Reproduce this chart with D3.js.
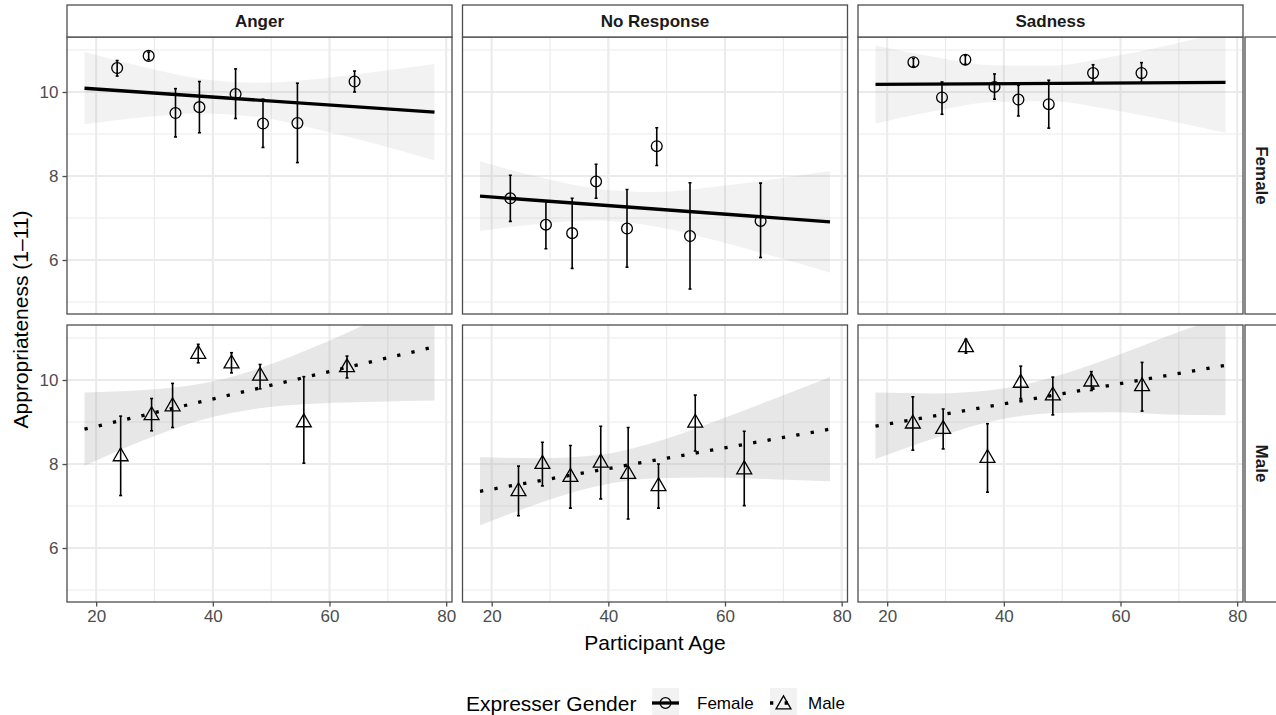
<!DOCTYPE html>
<html>
<head>
<meta charset="utf-8">
<script src="https://cdn.jsdelivr.net/npm/d3@7"></script>
<style>
  body { margin: 0; background: #fff; }
  svg { display: block; font-family: "Liberation Sans", Arial, Helvetica, sans-serif; }
</style>
</head>
<body>
<svg id="chart" width="1276" height="715"></svg>
<script>
// facets and axes
var emotions = ['Anger', 'No Response', 'Sadness'];
var genders = ['Female', 'Male'];
var xTicks = [20, 40, 60, 80];
var xMinor = [30, 50, 70];
var yTicks = [6, 8, 10];
var yMinor = [5, 7, 9, 11];

// group means: [age, mean, lower, upper]
var angerFemale = [
  [23.6, 10.57, 10.38, 10.75], [29.0, 10.86, 10.77, 10.95], [33.6, 9.50, 8.93, 10.08],
  [37.7, 9.64, 9.03, 10.25], [43.9, 9.95, 9.37, 10.55], [48.6, 9.25, 8.68, 9.83],
  [54.5, 9.26, 8.32, 10.21], [64.3, 10.25, 10.00, 10.50]
];
var noResponseFemale = [
  [23.2, 7.47, 6.92, 8.02], [29.3, 6.84, 6.27, 7.41], [33.8, 6.64, 5.80, 7.47],
  [37.9, 7.87, 7.47, 8.28], [43.2, 6.75, 5.83, 7.68], [48.3, 8.71, 8.25, 9.15],
  [54.0, 6.57, 5.31, 7.84], [66.1, 6.93, 6.06, 7.83]
];
var sadnessFemale = [
  [24.5, 10.71, 10.61, 10.80], [29.4, 9.87, 9.47, 10.24], [33.4, 10.77, 10.66, 10.87],
  [38.4, 10.12, 9.83, 10.43], [42.5, 9.82, 9.43, 10.16], [47.7, 9.71, 9.14, 10.28],
  [55.3, 10.45, 10.25, 10.65], [63.6, 10.45, 10.23, 10.70]
];
var angerMale = [
  [24.2, 8.18, 7.25, 9.14], [29.5, 9.16, 8.79, 9.56], [33.1, 9.37, 8.87, 9.92],
  [37.5, 10.62, 10.41, 10.85], [43.2, 10.39, 10.17, 10.65], [48.1, 10.10, 9.79, 10.37],
  [55.6, 8.99, 8.02, 10.08], [63.0, 10.30, 10.05, 10.57]
];
var noResponseMale = [
  [24.6, 7.35, 6.77, 7.95], [28.7, 8.00, 7.48, 8.52], [33.5, 7.69, 6.95, 8.44],
  [38.7, 8.03, 7.17, 8.90], [43.4, 7.76, 6.69, 8.87], [48.6, 7.47, 6.95, 8.00],
  [54.9, 8.98, 8.31, 9.64], [63.3, 7.87, 7.01, 8.78]
];
var sadnessMale = [
  [24.4, 8.96, 8.33, 9.60], [29.6, 8.83, 8.36, 9.31], [33.5, 10.78, 10.64, 10.97],
  [37.2, 8.14, 7.33, 8.96], [42.9, 9.93, 9.56, 10.33], [48.4, 9.63, 9.17, 10.07],
  [55.0, 9.96, 9.75, 10.20], [63.7, 9.85, 9.26, 10.42]
];

// linear fits: [age, value] at the two ends
var angerFemaleFit = [[18, 10.09], [78, 9.52]];
var noResponseFemaleFit = [[18, 7.52], [78, 6.91]];
var sadnessFemaleFit = [[18, 10.18], [78, 10.23]];
var angerMaleFit = [[18, 8.83], [78, 10.79]];
var noResponseMaleFit = [[18, 7.35], [78, 8.83]];
var sadnessMaleFit = [[18, 8.90], [78, 10.35]];

// confidence bands: [age, lower, upper]
var angerFemaleBand = [
  [18, 9.23, 10.95], [28, 9.40, 10.60], [38, 9.49, 10.31], [48, 9.40, 10.22],
  [58, 9.11, 10.31], [68, 8.76, 10.48], [78, 8.37, 10.67]
];
var noResponseFemaleBand = [
  [18, 6.69, 8.35], [28, 6.86, 7.98], [38, 6.94, 7.70], [48, 6.80, 7.62],
  [58, 6.48, 7.74], [68, 6.10, 7.92], [78, 5.70, 8.12]
];
var sadnessFemaleBand = [
  [18, 9.25, 11.11], [28, 9.54, 10.84], [38, 9.76, 10.64], [48, 9.78, 10.63],
  [58, 9.59, 10.83], [68, 9.33, 11.11], [78, 9.03, 11.43]
];
var angerMaleBand = [
  [18, 7.96, 9.70], [28, 8.56, 9.76], [38, 9.05, 9.91], [48, 9.33, 10.28],
  [58, 9.44, 10.82], [68, 9.48, 11.44], [78, 9.51, 12.07]
];
var noResponseMaleBand = [
  [18, 6.54, 8.16], [28, 7.06, 8.14], [38, 7.47, 8.21], [48, 7.66, 8.52],
  [58, 7.68, 9.00], [68, 7.64, 9.53], [78, 7.59, 10.07]
];
var sadnessMaleBand = [
  [18, 8.12, 9.70], [28, 8.61, 9.68], [38, 9.02, 9.76], [48, 9.21, 10.05],
  [58, 9.23, 10.51], [68, 9.18, 11.04], [78, 9.16, 11.54]
];

var panels = [
  { emotion: 'Anger', gender: 'Female', points: angerFemale, fit: angerFemaleFit, band: angerFemaleBand },
  { emotion: 'No Response', gender: 'Female', points: noResponseFemale, fit: noResponseFemaleFit, band: noResponseFemaleBand },
  { emotion: 'Sadness', gender: 'Female', points: sadnessFemale, fit: sadnessFemaleFit, band: sadnessFemaleBand },
  { emotion: 'Anger', gender: 'Male', points: angerMale, fit: angerMaleFit, band: angerMaleBand },
  { emotion: 'No Response', gender: 'Male', points: noResponseMale, fit: noResponseMaleFit, band: noResponseMaleBand },
  { emotion: 'Sadness', gender: 'Male', points: sadnessMale, fit: sadnessMaleFit, band: sadnessMaleBand }
];

// layout
var svg = d3.select('#chart');
var lefts = [67, 462.5, 858];
var tops = [37, 325];
var pw = 385, ph = 277;
var stripH = 32;
var border = '#4d4d4d';
var grid = '#ebebeb';
var tickText = '#4d4d4d';
var bandOpacity = { Female: 0.13, Male: 0.24 };

var x = d3.scaleLinear().domain([15, 81]).range([0, pw]);
var y = d3.scaleLinear().domain([4.715, 11.31]).range([ph, 0]);

var circleR = 5.4;
var triR = 8.6;

function trianglePath(r) {
  var xc = r * Math.sqrt(3) / 2, yc = r / 2;
  return 'M0,' + (-r) + 'L' + xc + ',' + yc + 'L' + (-xc) + ',' + yc + 'Z';
}

function drawMarker(sel, gender) {
  if (gender === 'Female') {
    sel.append('circle').attr('r', circleR)
      .attr('fill', 'none').attr('stroke', '#000').attr('stroke-width', 1.3);
  } else {
    sel.append('path').attr('d', trianglePath(triR))
      .attr('fill', 'none').attr('stroke', '#000').attr('stroke-width', 1.3);
  }
}

var defs = svg.append('defs');

panels.forEach(function (p, i) {
  var col = emotions.indexOf(p.emotion);
  var row = genders.indexOf(p.gender);
  var g = svg.append('g')
    .attr('transform', 'translate(' + lefts[col] + ',' + tops[row] + ')');

  defs.append('clipPath').attr('id', 'clip' + i)
    .append('rect').attr('width', pw).attr('height', ph);

  // grid
  g.selectAll('line.xminor').data(xMinor).enter().append('line')
    .attr('x1', x).attr('x2', x).attr('y1', 0).attr('y2', ph)
    .attr('stroke', grid).attr('stroke-width', 1.1);
  g.selectAll('line.yminor').data(yMinor).enter().append('line')
    .attr('y1', y).attr('y2', y).attr('x1', 0).attr('x2', pw)
    .attr('stroke', grid).attr('stroke-width', 1.1);
  g.selectAll('line.xmajor').data(xTicks).enter().append('line')
    .attr('x1', x).attr('x2', x).attr('y1', 0).attr('y2', ph)
    .attr('stroke', grid).attr('stroke-width', 2.1);
  g.selectAll('line.ymajor').data(yTicks).enter().append('line')
    .attr('y1', y).attr('y2', y).attr('x1', 0).attr('x2', pw)
    .attr('stroke', grid).attr('stroke-width', 2.1);

  var inner = g.append('g').attr('clip-path', 'url(#clip' + i + ')');

  // confidence band
  var area = d3.area()
    .x(function (d) { return x(d[0]); })
    .y0(function (d) { return y(d[1]); })
    .y1(function (d) { return y(d[2]); })
    .curve(d3.curveMonotoneX);
  inner.append('path').datum(p.band)
    .attr('d', area)
    .attr('fill', '#999999').attr('fill-opacity', bandOpacity[p.gender]);

  // fit line
  var line = d3.line()
    .x(function (d) { return x(d[0]); })
    .y(function (d) { return y(d[1]); });
  var fitPath = inner.append('path').datum(p.fit)
    .attr('d', line)
    .attr('fill', 'none').attr('stroke', '#000').attr('stroke-width', 3.3);
  if (p.gender === 'Male') {
    fitPath.attr('stroke-dasharray', '3.3,11.3');
  }

  // error bars
  var bars = inner.selectAll('g.bar').data(p.points).enter().append('g');
  bars.append('line')
    .attr('x1', function (d) { return x(d[0]); })
    .attr('x2', function (d) { return x(d[0]); })
    .attr('y1', function (d) { return y(d[2]); })
    .attr('y2', function (d) { return y(d[3]); })
    .attr('stroke', '#000').attr('stroke-width', 1.6);
  bars.append('line')
    .attr('x1', function (d) { return x(d[0]) - 1.5; })
    .attr('x2', function (d) { return x(d[0]) + 1.5; })
    .attr('y1', function (d) { return y(d[2]); })
    .attr('y2', function (d) { return y(d[2]); })
    .attr('stroke', '#000').attr('stroke-width', 1.6);
  bars.append('line')
    .attr('x1', function (d) { return x(d[0]) - 1.5; })
    .attr('x2', function (d) { return x(d[0]) + 1.5; })
    .attr('y1', function (d) { return y(d[3]); })
    .attr('y2', function (d) { return y(d[3]); })
    .attr('stroke', '#000').attr('stroke-width', 1.6);

  // points
  var marks = inner.selectAll('g.mark').data(p.points).enter().append('g')
    .attr('transform', function (d) { return 'translate(' + x(d[0]) + ',' + y(d[1]) + ')'; });
  drawMarker(marks, p.gender);

  // panel border
  g.append('rect').attr('width', pw).attr('height', ph)
    .attr('fill', 'none').attr('stroke', border).attr('stroke-width', 1.3);

  // top strip
  if (row === 0) {
    g.append('rect').attr('y', -stripH).attr('width', pw).attr('height', stripH)
      .attr('fill', '#fff').attr('stroke', border).attr('stroke-width', 1.3);
    g.append('text').attr('x', pw / 2).attr('y', -stripH / 2)
      .attr('text-anchor', 'middle').attr('dominant-baseline', 'central')
      .attr('font-size', 17).attr('font-weight', 'bold').attr('fill', '#1a1a1a')
      .text(p.emotion);
  }

  // right strip
  if (col === emotions.length - 1) {
    g.append('rect').attr('x', pw + 2).attr('width', stripH).attr('height', ph)
      .attr('fill', '#fff').attr('stroke', border).attr('stroke-width', 1.3);
    g.append('text')
      .attr('transform', 'translate(' + (pw + 2 + stripH / 2) + ',' + (ph / 2) + ') rotate(90)')
      .attr('text-anchor', 'middle').attr('dominant-baseline', 'central')
      .attr('font-size', 17).attr('font-weight', 'bold').attr('fill', '#1a1a1a')
      .text(p.gender);
  }

  // y axis
  if (col === 0) {
    var ya = g.append('g').call(d3.axisLeft(y).tickValues(yTicks).tickSize(4.5).tickPadding(4).tickFormat(d3.format('d')));
    ya.select('.domain').remove();
    ya.selectAll('line').attr('stroke', border).attr('stroke-width', 1.3);
    ya.selectAll('text').attr('font-size', 17).attr('fill', tickText).attr('font-family', null);
  }

  // x axis
  if (row === genders.length - 1) {
    var xa = g.append('g').attr('transform', 'translate(0,' + ph + ')')
      .call(d3.axisBottom(x).tickValues(xTicks).tickSize(4.5).tickPadding(3).tickFormat(d3.format('d')));
    xa.select('.domain').remove();
    xa.selectAll('line').attr('stroke', border).attr('stroke-width', 1.3);
    xa.selectAll('text').attr('font-size', 17).attr('fill', tickText).attr('font-family', null);
  }
});

// axis titles
svg.append('text')
  .attr('x', (lefts[0] + lefts[2] + pw) / 2).attr('y', 642)
  .attr('text-anchor', 'middle').attr('dominant-baseline', 'central')
  .attr('font-size', 21).attr('fill', '#000')
  .text('Participant Age');

svg.append('text')
  .attr('transform', 'translate(20,' + ((tops[0] + tops[1] + ph) / 2) + ') rotate(-90)')
  .attr('text-anchor', 'middle').attr('dominant-baseline', 'central')
  .attr('font-size', 21).attr('fill', '#000')
  .text('Appropriateness (1\u201311)');

// legend
var legend = svg.append('g').attr('transform', 'translate(0,703)');
legend.append('text').attr('x', 466).attr('y', 0)
  .attr('dominant-baseline', 'central').attr('font-size', 21).attr('fill', '#000')
  .text('Expresser Gender');

var keys = [
  { gender: 'Female', kx: 652, tx: 697 },
  { gender: 'Male', kx: 770, tx: 808 }
];
keys.forEach(function (k) {
  var kg = legend.append('g').attr('transform', 'translate(' + k.kx + ',0)');
  kg.append('rect').attr('x', 0).attr('y', -15).attr('width', 27).attr('height', 30)
    .attr('fill', '#f2f2f2');
  var ln = kg.append('line').attr('x1', 0).attr('x2', 27).attr('y1', 0).attr('y2', 0)
    .attr('stroke', '#000').attr('stroke-width', 3.3);
  if (k.gender === 'Male') ln.attr('stroke-dasharray', '3.3,11.3');
  var m = kg.append('g').attr('transform', 'translate(13.5,' + (k.gender === 'Male' ? 1.5 : 0) + ')');
  drawMarker(m, k.gender);
  legend.append('text').attr('x', k.tx).attr('y', 0)
    .attr('dominant-baseline', 'central').attr('font-size', 17).attr('fill', '#000')
    .text(k.gender);
});
</script>
</body>
</html>
